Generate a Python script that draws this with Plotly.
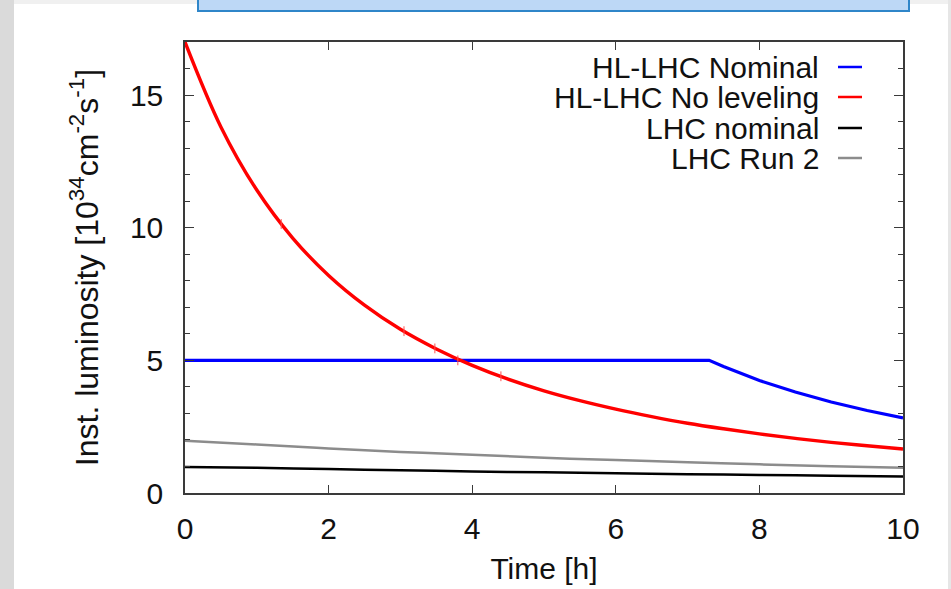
import plotly.graph_objects as go

# Time axis samples [h]
t_half = [0, 0.5, 1, 1.5, 2, 2.5, 3, 3.5, 4, 4.5, 5, 5.5, 6, 6.5, 7, 7.5, 8, 8.5, 9, 9.5, 10]
t_hour = [0, 1, 2, 3, 4, 5, 6, 7, 8, 9, 10]

# Instantaneous luminosity [1e34 cm^-2 s^-1]
hl_nominal_t = [0, 7.3, 7.5, 8, 8.5, 9, 9.5, 10]
hl_nominal = [5.0, 5.0, 4.77, 4.24, 3.81, 3.43, 3.11, 2.83]
hl_no_level = [17.0, 13.8, 11.42, 9.61, 8.2, 7.08, 6.17, 5.43, 4.81, 4.29, 3.85,
               3.48, 3.16, 2.88, 2.63, 2.42, 2.23, 2.06, 1.91, 1.78, 1.66]
lhc_nominal = [0.98, 0.95, 0.9, 0.86, 0.81, 0.78, 0.74, 0.71, 0.68, 0.65, 0.62]
lhc_run2 = [1.97, 1.83, 1.68, 1.55, 1.44, 1.33, 1.24, 1.16, 1.08, 1.01, 0.95]

# Sampled points marked on the no-leveling curve
mark_t = [1.34, 3.05, 3.48, 3.8, 4.4]
mark_l = [10.14, 6.1, 5.45, 5.0, 4.4]

legend_names = ["HL-LHC Nominal", "HL-LHC No leveling", "LHC nominal", "LHC Run 2"]
colors = ["#0000ff", "#ff0000", "#000000", "#8c8c8c"]

W, H = 951, 589
FONT = "Liberation Sans, Arial, sans-serif"
FS = 30

fig = go.Figure()
fig.add_trace(go.Scatter(x=t_hour, y=lhc_run2, mode="lines",
                         line=dict(color=colors[3], width=2.5, shape="spline")))
fig.add_trace(go.Scatter(x=t_hour, y=lhc_nominal, mode="lines",
                         line=dict(color=colors[2], width=2.5, shape="spline")))
fig.add_trace(go.Scatter(x=hl_nominal_t, y=hl_nominal, mode="lines",
                         line=dict(color=colors[0], width=3.2)))
fig.add_trace(go.Scatter(x=t_half, y=hl_no_level, mode="lines",
                         line=dict(color=colors[1], width=3.4, shape="spline")))
fig.add_trace(go.Scatter(x=mark_t, y=mark_l, mode="markers",
                         marker=dict(symbol="line-ns", size=7,
                                     line=dict(color="#ff5050", width=1))))

axis_common = dict(
    showgrid=False, zeroline=False, showline=True, linecolor="#3a3a3a", linewidth=1.5,
    mirror="ticks", ticks="inside", tickcolor="#3a3a3a", tickwidth=1.2,
    tickfont=dict(family=FONT, size=FS, color="#111111"), automargin=False,
)

fig.update_xaxes(range=[0, 10], dtick=2, ticklen=8, ticklabelstandoff=8,
                 title=dict(text="Time [h]", font=dict(family=FONT, size=FS, color="#111111"),
                            standoff=14),
                 **axis_common)
fig.update_yaxes(range=[0, 17], tickvals=[0, 5, 10, 15], ticklen=9, ticklabelstandoff=14,
                 minor=dict(dtick=1, ticks="inside", ticklen=5, tickcolor="#3a3a3a", tickwidth=1.2),
                 title=dict(text="Inst. luminosity [10<sup>34</sup>cm<sup>-2</sup>s<sup>-1</sup>]",
                            font=dict(family=FONT, size=32, color="#111111"), standoff=22),
                 **axis_common)

# Slide frame around the plot
shapes = [
    dict(type="rect", xref="paper", yref="paper", x0=-185 / 718, x1=(14 - 185) / 718,
         y0=-96 / 451, y1=(589 - 96) / 451, fillcolor="#dadada", line=dict(width=0), layer="below"),
    dict(type="rect", xref="paper", yref="paper", x0=(948 - 185) / 718, x1=(951 - 185) / 718,
         y0=-96 / 451, y1=(589 - 96) / 451, fillcolor="#e6e6e6", line=dict(width=0), layer="below"),
    dict(type="rect", xref="paper", yref="paper", x0=(14 - 185) / 718, x1=(948 - 185) / 718,
         y0=(589 - 96 - 4) / 451, y1=(589 - 96) / 451, fillcolor="#f0f0f0", line=dict(width=0), layer="below"),
    dict(type="rect", xref="paper", yref="paper", x0=(198 - 185) / 718, x1=(909 - 185) / 718,
         y0=(589 - 96 - 11) / 451, y1=(589 - 96 + 3) / 451, fillcolor="#bdd8f6",
         line=dict(color="#2f86c9", width=2)),
]

# Legend: right-aligned labels with line samples on their right
annotations = []
row_y = [67, 97, 128, 158]
for name, col, yp in zip(legend_names, colors, row_y):
    yf = (493 - yp) / 451
    annotations.append(dict(xref="paper", yref="paper", x=(821 - 185) / 718, y=yf,
                            xanchor="right", yanchor="middle", showarrow=False, text=name,
                            font=dict(family=FONT, size=FS, color="#111111")))
    shapes.append(dict(type="line", xref="paper", yref="paper",
                       x0=(838 - 185) / 718, x1=(862 - 185) / 718, y0=yf, y1=yf,
                       line=dict(color=col, width=2.5)))

fig.update_layout(
    width=W, height=H,
    margin=dict(l=185, r=48, t=42, b=96),
    paper_bgcolor="white", plot_bgcolor="white",
    showlegend=False, shapes=shapes, annotations=annotations,
)

fig.write_html("out.html")
